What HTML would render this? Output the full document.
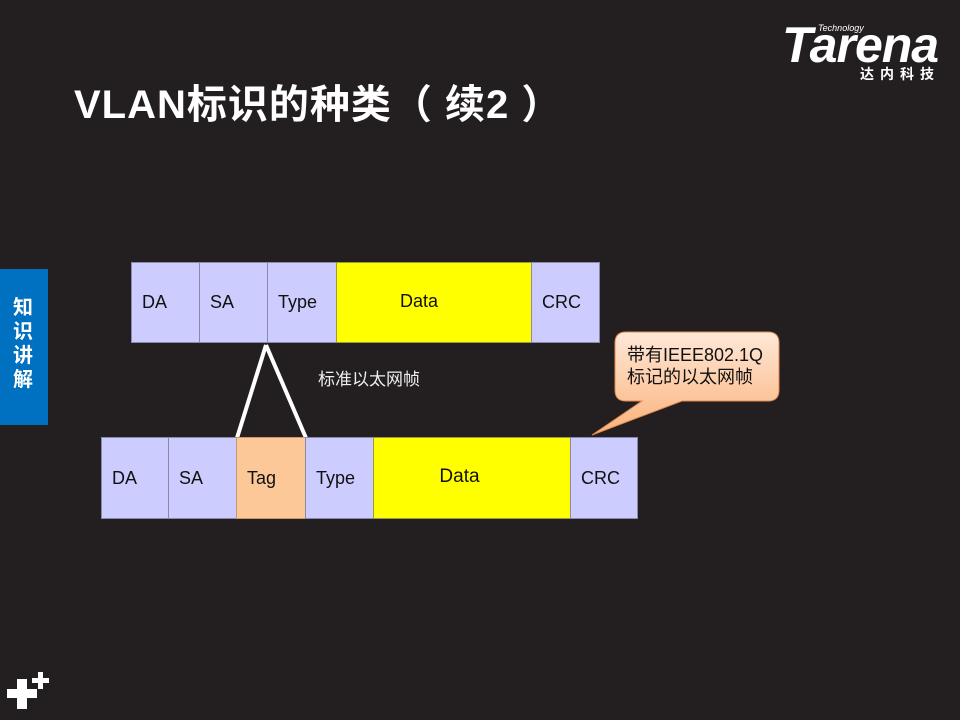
<!DOCTYPE html>
<html><head><meta charset="utf-8"><style>
body{margin:0;width:960px;height:720px;background:#231f20;position:relative;overflow:hidden;font-family:"Liberation Sans","Noto Sans CJK SC",sans-serif}
.a{position:absolute}
.c{position:absolute;box-sizing:border-box;background:#ccccff;border:1px solid #8a8aa8;font-size:18px;color:#111;display:flex;align-items:center;padding-left:10px}
.y{background:#ffff00;border-color:#9a9a40;justify-content:center;padding-left:0}
.t{background:#fcc898;border-color:#c89870}
</style></head><body>
<div class="a" style="left:74px;top:72px;font-size:40px;font-weight:bold;color:#fff;white-space:nowrap;letter-spacing:1px">VLAN标识的种类（ 续2 ）</div>
<div class="a" style="left:782px;top:20px;font-size:50px;font-weight:bold;font-style:italic;color:#fff;letter-spacing:-1px;line-height:50px">Tarena</div>
<div class="a" style="left:818px;top:23px;font-size:9px;color:#fff;font-style:italic">Technology</div>
<div class="a" style="left:860px;top:64px;font-size:14px;font-weight:bold;color:#fff;letter-spacing:6px">达内科技</div>
<div class="a" style="left:0;top:269px;width:48px;height:156px;background:#0070c0"></div>
<div class="a" style="left:13px;top:296px;width:22px;font-size:20px;font-weight:bold;color:#fff;line-height:24px">知识讲解</div>
<svg class="a" style="left:0;top:0" width="960" height="720">
<rect x="7" y="689" width="30" height="9" fill="#fff"/><rect x="17" y="679" width="10" height="30" fill="#fff"/>
<rect x="32" y="678" width="17" height="5" fill="#fff"/><rect x="38" y="672" width="5" height="17" fill="#fff"/>
<line x1="266" y1="345" x2="237" y2="438" stroke="#fff" stroke-width="4"/>
<line x1="266" y1="345" x2="306" y2="438" stroke="#fff" stroke-width="4"/>
<defs><linearGradient id="g" x1="0" y1="0" x2="0" y2="1"><stop offset="0" stop-color="#ffe8d8"/><stop offset="1" stop-color="#fbb27a"/></linearGradient></defs>
<path d="M626 332 H768 Q779 332 779 343 V390 Q779 401 768 401 H682 L592 435 L642 401 H626 Q615 401 615 390 V343 Q615 332 626 332 Z" fill="url(#g)" stroke="#e08a50" stroke-width="1"/>
</svg>
<div class="c" style="left:131px;top:262px;width:69px;height:81px">DA</div>
<div class="c" style="left:199px;top:262px;width:69px;height:81px">SA</div>
<div class="c" style="left:267px;top:262px;width:70px;height:81px">Type</div>
<div class="c y" style="left:336px;top:262px;width:196px;height:81px;align-items:flex-start;padding-top:28px;padding-right:30px">Data</div>
<div class="c" style="left:531px;top:262px;width:69px;height:81px">CRC</div>
<div class="a" style="left:318px;top:365px;font-size:17px;color:#eee">标准以太网帧</div>
<div class="c" style="left:101px;top:437px;width:68px;height:82px">DA</div>
<div class="c" style="left:168px;top:437px;width:69px;height:82px">SA</div>
<div class="c t" style="left:236px;top:437px;width:70px;height:82px">Tag</div>
<div class="c" style="left:305px;top:437px;width:69px;height:82px">Type</div>
<div class="c y" style="left:373px;top:437px;width:198px;height:82px;align-items:flex-start;padding-top:28px;font-size:19px;padding-right:25px">Data</div>
<div class="c" style="left:570px;top:437px;width:68px;height:82px">CRC</div>
<div class="a" style="left:627px;top:344px;font-size:18px;color:#111;line-height:22px">带有IEEE802.1Q<br>标记的以太网帧</div>
</body></html>
